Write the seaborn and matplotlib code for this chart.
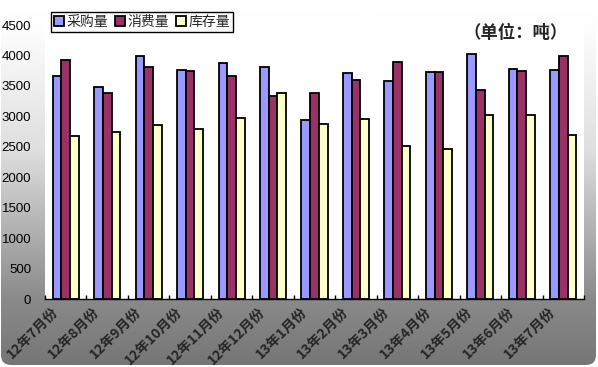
import numpy as np
import pandas as pd
import matplotlib
matplotlib.use('Agg')
import matplotlib.pyplot as plt
import seaborn as sns
from matplotlib.patches import FancyBboxPatch
from matplotlib.transforms import ScaledTranslation

# monthly figures, in tonnes
months = ['12年7月份', '12年8月份', '12年9月份', '12年10月份', '12年11月份', '12年12月份',
          '13年1月份', '13年2月份', '13年3月份', '13年4月份', '13年5月份', '13年6月份', '13年7月份']
purchase = [3660, 3480, 3990, 3760, 3870, 3810, 2940, 3710, 3580, 3720, 4020, 3770, 3760]
consume = [3920, 3390, 3810, 3740, 3670, 3330, 3390, 3590, 3900, 3720, 3430, 3740, 3990]
stock = [2670, 2740, 2850, 2800, 2980, 3390, 2870, 2950, 2520, 2460, 3020, 3030, 2700]
series = ['采购量', '消费量', '库存量']
colors = ['#9999ff', '#993366', '#ffffcc']
yticks = list(range(0, 4501, 500))

df = pd.DataFrame({'month': months * 3,
                   'series': [s for s in series for _ in months],
                   'value': purchase + consume + stock})

sns.set_theme(style='white')
plt.rcParams['font.family'] = ['Noto Sans CJK SC', 'DejaVu Sans']

W, H = 598, 367
fig = plt.figure(figsize=(W / 100, H / 100), dpi=100)

# background: rounded box with a white-to-grey gradient
bg = fig.add_axes([0, 0, 1, 1])
bg.set_xlim(0, W)
bg.set_ylim(H, 0)
bg.axis('off')
ys = np.linspace(0, H, 300)
shade = np.interp(ys, [0, 30, 150, 300, 367], [1.0, 0.99, 0.87, 0.54, 0.46])
im = bg.imshow(np.repeat(shade[:, None], 2, axis=1), cmap='gray', vmin=0, vmax=1,
               extent=[0, W, H, 0], aspect='auto')
box = FancyBboxPatch((1, 1), W - 3, H - 3, boxstyle='round,pad=0,rounding_size=10',
                     facecolor='none', edgecolor='none', transform=bg.transData)
bg.add_patch(box)
im.set_clip_path(box)

ax = fig.add_axes([45 / W, 1 - 299 / H, (584 - 45) / W, (299 - 25) / H])
ax.set_facecolor('white')
sns.barplot(data=df, x='month', y='value', hue='series', palette=colors, saturation=1,
            width=0.63, edgecolor='black', linewidth=1.3, ax=ax)

ax.set_ylim(0, 4500)
ax.set_xlim(-0.5, len(months) - 0.5)
ax.set_yticks(yticks)
ax.set_yticklabels([str(v) for v in yticks], fontfamily='Liberation Sans', fontsize=9.5)
ax.tick_params(axis='y', length=0, pad=10, colors='black')
ax.set_xticks(range(len(months)))
ax.set_xticklabels([''] * len(months))
ax.set_xticks(np.arange(-0.5, len(months), 1), minor=True)
ax.tick_params(axis='x', which='major', length=0)
ax.tick_params(axis='x', which='minor', direction='in', length=3, width=1, color='black', bottom=True)
ax.set_xlabel('')
ax.set_ylabel('')
for side in ['top', 'right', 'left']:
    ax.spines[side].set_visible(False)
ax.spines['bottom'].set_color('black')
ax.spines['bottom'].set_linewidth(1)

# rotated month labels
offset = ScaledTranslation(-10 / 100, -11 / 100, fig.dpi_scale_trans)
for i, m in enumerate(months):
    ax.text(i, 0, m, transform=ax.get_xaxis_transform() + offset, rotation=45,
            ha='right', va='center', rotation_mode='anchor', fontsize=10, fontweight='bold')

handles, labels = ax.get_legend_handles_labels()
ax.legend_.remove()
leg = ax.legend(handles, labels, loc='upper left', bbox_to_anchor=(51 / W, 1 - 12 / H),
                bbox_transform=fig.transFigure, ncol=3, fontsize=10, frameon=True,
                fancybox=False, edgecolor='black', framealpha=1, borderpad=0.2,
                handlelength=0.7, handleheight=0.7, handletextpad=0.2, columnspacing=0.5,
                borderaxespad=0)
leg.get_frame().set_linewidth(1)

fig.text(516 / W, 1 - 33 / H, '（单位：吨）', ha='center', va='center', fontsize=12.5,
         fontweight='bold')

fig.savefig('out.png', dpi=100)
